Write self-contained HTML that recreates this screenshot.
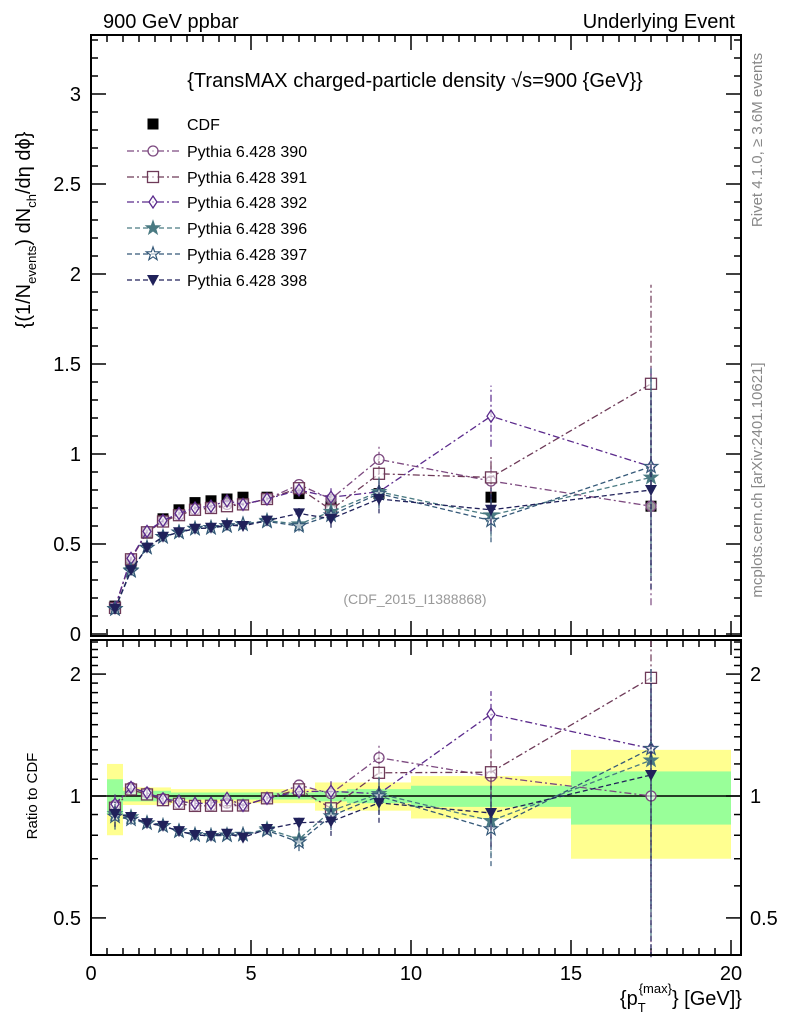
<!DOCTYPE html>
<html><head><meta charset="utf-8"><style>
html,body{margin:0;padding:0;background:#fff;}
svg text{font-family:"Liberation Sans",sans-serif;}
</style></head><body>
<svg id="c" width="786" height="1024" xmlns="http://www.w3.org/2000/svg">
<g id="bands"></g>
<g id="grid"></g>
<g id="series"></g>
<rect x="91" y="35" width="650" height="601" fill="none" stroke="#000" stroke-width="2"/>
<rect x="91" y="640" width="650" height="315" fill="none" stroke="#000" stroke-width="2"/>
<text x="103" y="28" font-size="20">900 GeV ppbar</text>
<text x="735" y="28" font-size="20" text-anchor="end">Underlying Event</text>
<text x="415" y="87" font-size="20" text-anchor="middle">{TransMAX charged-particle density √s=900 {GeV}}</text>
<text x="415" y="604" font-size="14" fill="#999" text-anchor="middle">(CDF_2015_I1388868)</text>
<text transform="translate(762,140) rotate(-90)" font-size="15" fill="#888" text-anchor="middle">Rivet 4.1.0, ≥ 3.6M events</text>
<text transform="translate(762,480) rotate(-90)" font-size="15" fill="#888" text-anchor="middle">mcplots.cern.ch [arXiv:2401.10621]</text>
<text transform="translate(30,230) rotate(-90)" font-size="20" text-anchor="middle">{(1/N<tspan font-size="13" dy="6">events</tspan><tspan dy="-6">) dN</tspan><tspan font-size="13" dy="6">ch</tspan><tspan dy="-6">/dη dϕ}</tspan></text>
<text transform="translate(37,796) rotate(-90)" font-size="15" text-anchor="middle">Ratio to CDF</text>
<text x="742" y="1005" font-size="20" text-anchor="end">{p<tspan font-size="13" dy="7">T</tspan><tspan font-size="13" dy="-19" dx="-7">{max}</tspan><tspan dy="12">} [GeV]}</tspan></text>
<g id="legend"></g>
</svg>
<script>
const xs=[0.75,1.25,1.75,2.25,2.75,3.25,3.75,4.25,4.75,5.5,6.5,7.5,9,12.5,17.5];
const binLo=[0.5,1,1.5,2,2.5,3,3.5,4,4.5,5,6,7,8,10,15];
const binHi=[1,1.5,2,2.5,3,3.5,4,4.5,5,6,7,8,10,15,20];
const cdfVals=[0.155,0.40,0.56,0.64,0.69,0.73,0.74,0.75,0.76,0.76,0.78,0.74,0.78,0.76,0.71];
const cdfYellow=[0.20,0.05,0.05,0.05,0.04,0.04,0.04,0.04,0.04,0.04,0.04,0.08,0.08,0.12,0.30];
const cdfGreen=[0.10,0.03,0.03,0.03,0.02,0.02,0.02,0.02,0.02,0.02,0.02,0.03,0.04,0.06,0.15];
const m390=[0.147,0.42,0.57,0.63,0.66,0.69,0.70,0.72,0.72,0.75,0.83,0.75,0.97,0.85,0.71];
const m391=[0.145,0.415,0.565,0.625,0.66,0.69,0.70,0.71,0.72,0.75,0.81,0.69,0.89,0.87,1.39];
const m392=[0.148,0.42,0.57,0.63,0.67,0.70,0.71,0.74,0.72,0.75,0.80,0.76,0.79,1.21,0.93];
const m396=[0.14,0.355,0.48,0.54,0.565,0.585,0.59,0.60,0.61,0.63,0.61,0.68,0.79,0.66,0.87];
const m397=[0.138,0.35,0.48,0.54,0.565,0.585,0.59,0.60,0.61,0.625,0.60,0.66,0.78,0.63,0.93];
const m398=[0.14,0.355,0.48,0.54,0.565,0.585,0.59,0.605,0.60,0.63,0.67,0.64,0.75,0.69,0.80];
const errA=[0.01,0.01,0.01,0.01,0.01,0.01,0.01,0.01,0.01,0.01,0.03,0.05,0.08,0.12,0.55];
const errB=[0.01,0.01,0.01,0.01,0.01,0.01,0.01,0.01,0.01,0.01,0.03,0.05,0.07,0.17,0.55];
const names=["Pythia 6.428 390","Pythia 6.428 391","Pythia 6.428 392","Pythia 6.428 396","Pythia 6.428 397","Pythia 6.428 398"];
const NS="http://www.w3.org/2000/svg";
const X=v=>91+32*v;
const Y=v=>634-180*v;
const R=v=>796-405*Math.log10(v);
function mk(t,a,p){const e=document.createElementNS(NS,t);for(const k in a)e.setAttribute(k,a[k]);p.appendChild(e);return e;}
const bands=document.getElementById('bands'),grid=document.getElementById('grid'),ser=document.getElementById('series'),leg=document.getElementById('legend');
// bands
for(let i=0;i<xs.length;i++){
 const y=mk('rect',{x:X(binLo[i]),y:R(1+cdfYellow[i]),width:X(binHi[i])-X(binLo[i]),height:R(1-cdfYellow[i])-R(1+cdfYellow[i]),fill:'#ffff90'},bands);
 
 
 const g=mk('rect',{x:X(binLo[i]),y:R(1+cdfGreen[i]),width:X(binHi[i])-X(binLo[i]),height:R(1-cdfGreen[i])-R(1+cdfGreen[i]),fill:'#99ff99'},bands);
 
 
}
mk('line',{x1:91,x2:741,y1:R(1),y2:R(1),stroke:'#000','stroke-width':1.5},grid);
// x ticks
for(let v=0;v<=20.3;v+=0.5){
 const maj=Math.abs(v%5)<1e-6, L=maj?15:7;
 for(const [top,bot] of [[35,636],[640,955]]){
  mk('line',{x1:X(v),x2:X(v),y1:bot,y2:bot-L,stroke:'#000','stroke-width':1.5},grid);
  mk('line',{x1:X(v),x2:X(v),y1:top,y2:top+L,stroke:'#000','stroke-width':1.5},grid);
 }
 if(maj){const t=mk('text',{x:X(v),y:980,'font-size':20,'text-anchor':'middle'},grid);t.textContent=String(v);
 
 }
}
// main y ticks
const mainTicks=["0","0.5","1","1.5","2","2.5","3"];
for(let i=0;i<=33;i++){const v=i/10,maj=i%5==0,L=maj?15:7;
 mk('line',{x1:91,x2:91+L,y1:Y(v),y2:Y(v),stroke:'#000','stroke-width':1.5},grid);
 mk('line',{x1:741,x2:741-L,y1:Y(v),y2:Y(v),stroke:'#000','stroke-width':1.5},grid);
}
mainTicks.forEach(s=>{const t=mk('text',{x:81,y:Y(+s)+7,'font-size':20,'text-anchor':'end'},grid);t.textContent=s;
 
 });
// ratio ticks
const rMinor=[0.5,0.6,0.7,0.8,0.9,1,1.1,1.2,1.3,1.4,1.5,1.6,1.7,1.8,1.9,2,2.1,2.2,2.3,2.4];
rMinor.forEach(v=>{const maj=(v==0.5||v==1||v==2),L=maj?15:7;
 mk('line',{x1:91,x2:91+L,y1:R(v),y2:R(v),stroke:'#000','stroke-width':1.5},grid);
 mk('line',{x1:741,x2:741-L,y1:R(v),y2:R(v),stroke:'#000','stroke-width':1.5},grid);});
const rLabels=["0.5","1","2"];
rLabels.forEach(s=>{for(const [x,a] of [[81,'end'],[750,'start']]){const t=mk('text',{x:x,y:R(+s)+7,'font-size':20,'text-anchor':a},grid);t.textContent=s;
 
 }});
// series
const models=[m390,m391,m392,m396,m397,m398];
const errs=[errA,errA,errB,errA,errA,errA];
const cols=['#7d4a80','#6e3a58','#5b2a8c','#4a7a82','#345878','#20215a'];
const dash=['7,3,2,3','7,3,2,3','7,3,2,3','5,3','5,3','5,3'];
const mkr=['circle','square','diamond','star','ostar','tri'];
function marker(type,x,y,c,p){
 if(type=='circle')mk('circle',{cx:x,cy:y,r:5,fill:'#fff','fill-opacity':0.6,stroke:c,'stroke-width':1.3},p);
 else if(type=='square')mk('rect',{x:x-5.5,y:y-5.5,width:11,height:11,fill:'#fff','fill-opacity':0.6,stroke:c,'stroke-width':1.3},p);
 else if(type=='diamond')mk('polygon',{points:`${x},${y-6} ${x+4},${y} ${x},${y+6} ${x-4},${y}`,fill:'#fff','fill-opacity':0.6,stroke:c,'stroke-width':1.3},p);
 else if(type=='sq')mk('rect',{x:x-5.5,y:y-5.5,width:11,height:11,fill:c},p);
 else if(type=='tri')mk('polygon',{points:`${x-6},${y-5} ${x+6},${y-5} ${x},${y+6}`,fill:c},p);
 else{let pts=[];for(let k=0;k<10;k++){const a=-Math.PI/2+k*Math.PI/5,r=k%2?2.8:7;pts.push((x+r*Math.cos(a)).toFixed(1)+','+(y+r*Math.sin(a)).toFixed(1));}
  mk('polygon',{points:pts.join(' '),fill:type=='star'?c:'#fff','fill-opacity':type=='star'?1:0.6,stroke:c,'stroke-width':1.2},p);}
}
// CDF points
const cg=mk('g',{},ser);


xs.forEach((x,i)=>marker('sq',X(x),Y(cdfVals[i]),'#000',cg));
models.forEach((m,j)=>{
 const g=mk('g',{},ser);
 
 
 const c=cols[j];
 const ptsM=xs.map((x,i)=>X(x)+','+Y(m[i])).join(' ');
 mk('polyline',{points:ptsM,fill:'none',stroke:c,'stroke-width':1.3,'stroke-dasharray':dash[j]},g);
 const ptsR=xs.map((x,i)=>X(x)+','+R(m[i]/cdfVals[i])).join(' ');
 mk('polyline',{points:ptsR,fill:'none',stroke:c,'stroke-width':1.3,'stroke-dasharray':dash[j]},g);
 xs.forEach((x,i)=>{
  const e=errs[j][i];
  const lo=Math.max(m[i]-e,0.01),hi=m[i]+e;
  mk('line',{x1:X(x),x2:X(x),y1:Y(lo),y2:Y(hi),stroke:c,'stroke-width':1.2,'stroke-dasharray':dash[j]},g);
  const rlo=Math.max(lo/cdfVals[i],0.4),rhi=Math.min(hi/cdfVals[i],2.43);
  mk('line',{x1:X(x),x2:X(x),y1:R(rlo),y2:R(rhi),stroke:c,'stroke-width':1.2,'stroke-dasharray':dash[j]},g);
  marker(mkr[j],X(x),Y(m[i]),c,g);
  marker(mkr[j],X(x),R(m[i]/cdfVals[i]),c,g);
 });
});
// legend
const ly=[124,151,177,202,228,254,280];
const lsq=mk('g',{},leg);


marker('sq',153,ly[0],'#000',lsq);
const lt=mk('text',{x:187,y:ly[0]+6,'font-size':16},lsq);lt.textContent='CDF';
names.forEach((n,j)=>{
 const g=mk('g',{},leg);
 
 
 const y=ly[j+1];
 mk('line',{x1:127,x2:180,y1:y,y2:y,stroke:cols[j],'stroke-width':1.3,'stroke-dasharray':dash[j]},g);
 marker(mkr[j],153,y,cols[j],g);
 const t=mk('text',{x:187,y:y+6,'font-size':16},g);t.textContent=n;
});
</script>
</body></html>
